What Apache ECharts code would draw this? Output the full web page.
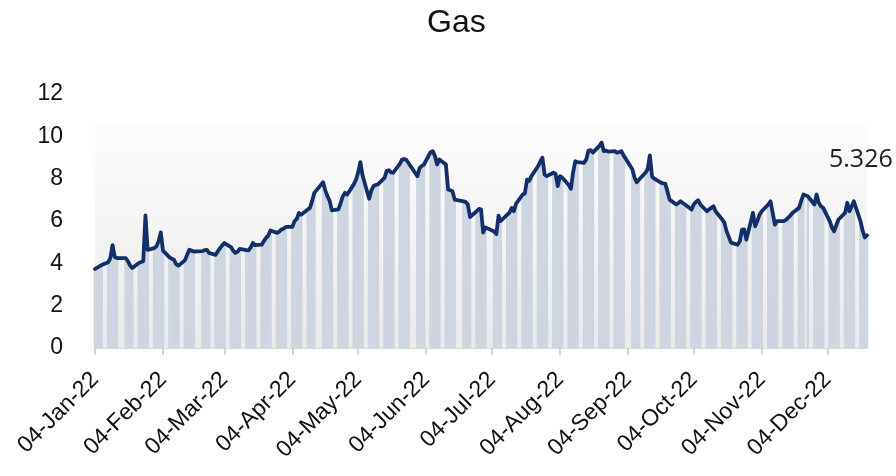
<!DOCTYPE html>
<html><head><meta charset="utf-8">
<script src="https://cdn.jsdelivr.net/npm/echarts@6/dist/echarts.min.js"></script>
<style>html,body{margin:0;padding:0;background:#fff}#c{width:896px;height:476px}</style>
</head><body><div id="c"></div>
<script>
const chartTitle = 'Gas';
const startDate = '2022-01-04';
const endDate = '2022-12-22';
const holidays = ['2022-01-17','2022-02-21','2022-04-15','2022-05-30','2022-06-20','2022-07-04','2022-09-05','2022-11-24'];
const tickLabels = ['04-Jan-22','04-Feb-22','04-Mar-22','04-Apr-22','04-May-22','04-Jun-22','04-Jul-22','04-Aug-22','04-Sep-22','04-Oct-22','04-Nov-22','04-Dec-22'];
const yMin = 0, yMax = 12, yStep = 2;
const shadedTop = 10.68;
// one row per trading week
const prices = [
  3.73, 3.80, 3.86, 3.92,
  4.05, 4.25, 4.86, 4.30, 4.25,
  4.25, 4.10, 3.90, 3.78,
  4.02, 4.06, 4.10, 6.26, 4.64,
  4.72, 4.80, 5.05, 5.46, 4.60,
  4.28, 4.22, 4.17, 3.96, 3.89,
  4.14, 4.40, 4.64, 4.60, 4.56,
  4.58, 4.62, 4.64, 4.49,
  4.40, 4.57, 4.72, 4.85, 4.96,
  4.77, 4.60, 4.49, 4.55, 4.68,
  4.62, 4.61, 4.75, 4.96, 4.86,
  4.88, 5.05, 5.20, 5.31, 5.55,
  5.44, 5.50, 5.60, 5.64, 5.72,
  5.72, 6.00, 6.10, 6.38, 6.30,
  6.54, 6.62, 6.95, 7.33,
  7.83, 7.45, 7.17, 6.95, 6.50,
  6.55, 6.85, 7.17, 7.33, 7.25,
  7.73, 7.95, 8.30, 8.78, 8.15,
  7.05, 7.45, 7.65, 7.70, 7.73,
  8.04, 8.36, 8.40, 8.30, 8.28,
  8.70, 8.90, 8.93, 8.88, 8.73,
  8.12, 8.50, 8.60, 8.67,
  9.25, 9.30, 9.07, 8.67, 8.91,
  8.67, 7.49, 7.45, 7.41, 7.01,
  6.93, 6.90, 6.78, 6.19,
  6.46, 6.57, 6.55, 5.45, 5.70,
  5.50, 5.38, 6.25, 6.00,
  6.30, 6.40, 6.62, 6.46, 6.82,
  7.25, 7.30, 7.96, 7.90, 8.12,
  8.59, 8.80, 8.99, 8.20, 8.12,
  8.28, 8.22, 7.65, 8.12, 8.05,
  7.70, 7.52, 8.30, 8.83, 8.78,
  8.75, 8.91, 9.33, 9.35, 9.23,
  9.55, 9.70, 9.30, 9.32, 9.28,
  9.30, 9.23, 9.25, 9.30, 9.10,
  8.44, 8.05, 7.83, 7.95,
  8.28, 8.45, 9.10, 8.10, 8.00,
  7.81, 7.78, 7.77, 7.40, 7.01,
  6.78, 6.85, 6.93, 6.85, 6.78,
  6.54, 6.78, 6.90, 6.98, 6.78,
  6.46, 6.55, 6.62, 6.70, 6.45,
  6.07, 5.91, 5.51, 5.25, 4.98,
  4.88, 5.04, 5.59, 5.60, 5.12,
  6.38, 5.75, 6.00, 6.30, 6.46,
  6.78, 6.93, 6.38, 5.83, 5.99,
  5.99, 6.05, 6.15, 6.25, 6.38,
  6.62, 6.95, 7.25, 7.17,
  6.78, 7.25, 6.86, 6.70, 6.62,
  5.99, 5.70, 5.51, 5.80, 6.07,
  6.38, 6.86, 6.46, 6.70, 6.93,
  6.00, 5.55, 5.22, 5.326
];

const MON = {Jan:0,Feb:1,Mar:2,Apr:3,May:4,Jun:5,Jul:6,Aug:7,Sep:8,Oct:9,Nov:10,Dec:11};
function isoToUTC(s){const p=s.split('-').map(Number);return Date.UTC(p[0],p[1]-1,p[2]);}
function tickToUTC(s){const p=s.split('-');return Date.UTC(2000+Number(p[2]),MON[p[1]],Number(p[0]));}
const DAY = 86400000;
const dates = [];
for (let t = isoToUTC(startDate); t <= isoToUTC(endDate); t += DAY) {
  const d = new Date(t), wd = d.getUTCDay();
  if (wd === 0 || wd === 6) continue;
  if (holidays.indexOf(d.toISOString().slice(0,10)) >= 0) continue;
  dates.push(t);
}
if (dates.length !== prices.length) console.error('length mismatch', dates.length, prices.length);
const seriesData = dates.map((t,i)=>[t, prices[i]]);
const tickValues = tickLabels.map(tickToUTC);
function labelFor(v){let best=0,bd=Infinity;tickValues.forEach((t,i)=>{const dd=Math.abs(t-v);if(dd<bd){bd=dd;best=i;}});return tickLabels[best];}

const chart = echarts.init(document.getElementById('c'), null, {renderer:'canvas'});
const font = '"Liberation Sans", Arial, sans-serif';
chart.setOption({
  animation: false,
  backgroundColor: '#ffffff',
  title: {text: chartTitle, left: 427, top: 7, padding: 0,
    textStyle: {fontFamily: font, fontSize: 32, fontWeight: 'normal', color: '#111'}},
  grid: {left: 95, right: 29, top: 94, bottom: 128, outerBoundsMode: 'none'},
  xAxis: {
    type: 'value', min: dates[0], max: dates[dates.length-1], scale: true,
    axisLine: {show: true, lineStyle: {color: '#cdcdcd', width: 1.5}},
    axisTick: {show: true, customValues: tickValues, length: 7, lineStyle: {color: '#c8c8c8', width: 1.5}},
    axisLabel: {customValues: tickValues, formatter: v => labelFor(v), rotate: 45, margin: 28,
      fontFamily: font, fontSize: 23, color: '#111', hideOverlap: false},
    splitLine: {show: false}
  },
  yAxis: {
    type: 'value', min: yMin, max: yMax, interval: yStep,
    axisLine: {show: false}, axisTick: {show: false}, splitLine: {show: false},
    axisLabel: {margin: 32, fontFamily: font, fontSize: 23, color: '#111'}
  },
  graphic: [{type: 'text', left: 829, top: 147, silent: true, z: 100, zlevel: 1,
    style: {text: String(prices[prices.length-1]), font: '25px "Open Sans", sans-serif', fill: '#222'}}],
  series: [
    {type: 'line', data: seriesData, symbol: 'none', lineStyle: {opacity: 0}, silent: true, z: 0,
      markArea: {silent: true, itemStyle: {color: {type: 'linear', x: 0, y: 0, x2: 0, y2: 1,
        colorStops: [{offset: 0, color: '#fdfdfd'}, {offset: 1, color: '#eaeaea'}]}},
        data: [[{xAxis: dates[0], yAxis: yMin}, {xAxis: dates[dates.length-1], yAxis: shadedTop}]]}},
    {type: 'bar', data: seriesData, barWidth: 2.6, itemStyle: {color: '#cdd5e0'}, z: 2, silent: true},
    {type: 'line', data: seriesData, symbol: 'none', z: 3, silent: true,
      lineStyle: {color: '#132f6a', width: 3.8, join: 'round', cap: 'round'}}
  ]
});
</script></body></html>
